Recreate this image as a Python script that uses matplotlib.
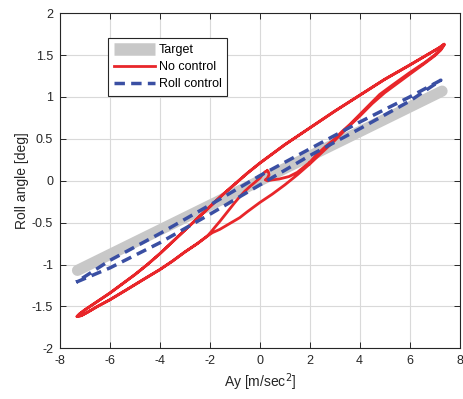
import numpy as np
import matplotlib
matplotlib.use("Agg")
import matplotlib.pyplot as plt
from matplotlib.lines import Line2D

plt.rcParams['font.family'] = ['Liberation Sans', 'DejaVu Sans']
plt.rcParams['axes.unicode_minus'] = False

# target line (Ay vs roll angle)
target_x = [-7.3, 7.3]
target_y = [-1.07, 1.07]

# roll control loop: rising branch then falling branch
roll_x = [-7.35, -6.0, -4.0, -2.0, 0.0, 2.0, 4.0, 6.0, 7.25,
          6.0, 4.0, 2.0, 0.0, -2.0, -4.0, -6.0, -7.35]
roll_y = [-1.21, -1.04, -0.74, -0.40, -0.05, 0.30, 0.62, 0.95, 1.20,
          1.00, 0.70, 0.38, 0.06, -0.29, -0.63, -0.95, -1.21]

# no control: pieces of the loop
hook_x = [0.30, 0.20, 0.10, 0.00, -0.20, -0.40, -0.60, -0.80, -1.00, -1.20, -1.40,
          -1.60, -1.80, -1.95, -2.10]
hook_y = [0.12, 0.105, 0.07, 0.03, -0.02, -0.07, -0.125, -0.19, -0.26, -0.335, -0.41,
          -0.485, -0.555, -0.61, -0.66]

low_x = [-2.10, -2.50, -3.00, -3.50, -4.00, -4.67, -5.33, -6.00, -6.50, -6.90, -7.15, -7.32]
low_y = [-0.66, -0.75, -0.85, -0.96, -1.06, -1.18, -1.30, -1.42, -1.50, -1.57, -1.61, -1.62]

up_x = [-7.32, -7.22, -7.00, -6.60, -6.00, -5.50, -5.00, -4.50, -4.00, -3.50, -3.00, -2.50,
        -2.00, -1.50, -1.00, -0.50, 0.00, 0.50, 1.00, 2.00, 3.00, 4.00, 5.00, 6.00, 6.80,
        7.20, 7.38]
up_y = [-1.62, -1.59, -1.54, -1.46, -1.34, -1.23, -1.12, -1.00, -0.87, -0.73, -0.59, -0.45,
        -0.31, -0.17, -0.04, 0.09, 0.21, 0.32, 0.43, 0.63, 0.83, 1.02, 1.21, 1.38, 1.52,
        1.59, 1.63]

right1_x = [7.38, 7.25, 7.00, 6.60, 6.00, 5.30, 4.80, 4.40, 4.00, 3.60, 3.30, 3.00, 2.60, 2.24, 2.00]
right1_y = [1.62, 1.57, 1.50, 1.41, 1.29, 1.14, 1.03, 0.91, 0.79, 0.67, 0.59, 0.50, 0.40, 0.30, 0.22]

mid_x = [2.00, 1.50, 1.00, 0.50, 0.00, -0.50, -0.80, -1.20, -1.60, -1.90, -2.10]
mid_y = [0.20, 0.07, -0.05, -0.16, -0.26, -0.37, -0.44, -0.51, -0.58, -0.62, -0.66]

right2_x = [7.38, 7.25, 7.00, 6.60, 6.00, 5.50, 5.00, 4.50, 4.00, 3.50, 3.00, 2.50, 2.00]
right2_y = [1.62, 1.56, 1.49, 1.40, 1.27, 1.16, 1.05, 0.92, 0.77, 0.63, 0.48, 0.34, 0.20]

curl_x = [2.00, 1.71, 1.50, 1.17, 0.77, 0.50, 0.30, 0.22, 0.30, 0.37, 0.35, 0.30]
curl_y = [0.22, 0.15, 0.10, 0.05, 0.02, 0.01, 0.00, 0.01, 0.03, 0.07, 0.10, 0.12]

xticks = [-8, -6, -4, -2, 0, 2, 4, 6, 8]
yticks = [-2, -1.5, -1, -0.5, 0, 0.5, 1, 1.5, 2]

# two cycles of the loop, in drawing order
nc_x = np.concatenate([hook_x, low_x, up_x, right1_x, mid_x, low_x, up_x, right2_x, curl_x])
nc_y = np.concatenate([hook_y, low_y, up_y, right1_y, mid_y, low_y, up_y, right2_y, curl_y])

red = '#e8262a'
blue = '#3a4fa3'
grey = '#c8c8c8'

fig = plt.figure(figsize=(4.63, 3.99), dpi=100)
ax = fig.add_axes([0.1296, 0.127, 0.863, 0.840])

ax.plot(target_x, target_y, color=grey, lw=8, solid_capstyle='round', zorder=2)
ax.plot(nc_x, nc_y, color=red, lw=2.0, solid_joinstyle='round', zorder=3)
ax.plot(roll_x, roll_y, color=blue, lw=2.5, linestyle=(0, (3, 1.8)), zorder=4)

ax.set_xlim(-8, 8)
ax.set_ylim(-2, 2)
ax.set_xticks(xticks)
ax.set_yticks(yticks)
ax.set_xticklabels([str(t) for t in xticks])
ax.set_yticklabels(['%g' % t for t in yticks])
ax.grid(True, color='#d9d9d9', lw=0.8)
ax.set_axisbelow(True)
ax.tick_params(direction='in', top=True, right=True, length=4, width=0.7,
               labelsize=9, colors='#262626', pad=5)
for s in ax.spines.values():
    s.set_linewidth(0.8)
    s.set_color('#262626')

ax.set_xlabel('Ay [m/sec$^2$]', fontsize=10, color='#262626', labelpad=3)
ax.set_ylabel('Roll angle [deg]', fontsize=10, color='#262626', labelpad=2)

handles = [Line2D([], [], color=grey, lw=9, solid_capstyle='butt'),
           Line2D([], [], color=red, lw=2.0),
           Line2D([], [], color=blue, lw=2.5, linestyle=(0, (3, 1.8)))]
leg = ax.legend(handles, ['Target', 'No control', 'Roll control'],
                loc='upper left', bbox_to_anchor=(0.12, 0.925), fontsize=9,
                handlelength=3.3, handletextpad=0.3, borderpad=0.45,
                labelspacing=0.4, fancybox=False, framealpha=1,
                borderaxespad=0)
leg.get_frame().set_edgecolor('#262626')
leg.get_frame().set_linewidth(0.8)

plt.savefig('out.png', dpi=100)
